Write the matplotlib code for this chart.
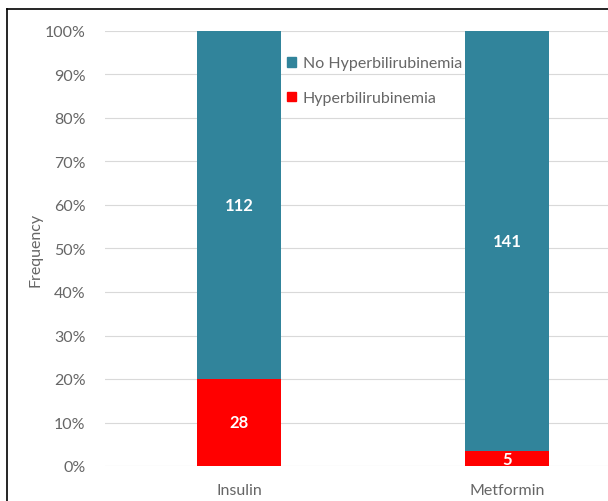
"""
Stacked 100% bars: hyperbilirubinemia by treatment.
"""

from matplotlib import pyplot as plt
from matplotlib.lines import Line2D
from matplotlib.patches import Patch
from matplotlib.ticker import PercentFormatter
import numpy as np

groups = ['Insulin', 'Metformin']
hyper = [28, 5]
no_hyper = [112, 141]
series_names = ['No Hyperbilirubinemia', 'Hyperbilirubinemia']

TEAL = '#31849b'
RED = '#ff0000'
GREY = '#666666'
FS = 11.5

plt.rcParams['font.family'] = ['Lato', 'DejaVu Sans']
plt.rcParams['font.size'] = FS

hyper = np.array(hyper)
no_hyper = np.array(no_hyper)
total = hyper + no_hyper
hyper_pct = hyper / total * 100
no_pct = no_hyper / total * 100

fig = plt.figure(figsize=(6.08, 5.02), dpi=100)
ax = fig.add_axes([105 / 608, 1 - 467 / 502, 536 / 608, 435 / 502])

x = np.arange(len(groups))
width = 0.313
ax.bar(x, hyper_pct, width, color=RED, zorder=2)
ax.bar(x, no_pct, width, bottom=hyper_pct, color=TEAL, zorder=2)

for xi, h, hp, n, npct in zip(x, hyper, hyper_pct, no_hyper, no_pct):
    ax.text(xi, hp / 2, str(h), ha='center', va='center', fontsize=12,
            color='white', fontweight='bold', zorder=3)
    ax.text(xi, hp + npct / 2, str(n), ha='center', va='center', fontsize=12,
            color='white', fontweight='bold', zorder=3)

ax.set_xlim(-0.5, 1.5)
ax.set_ylim(0, 100)
ax.set_yticks(np.arange(0, 101, 10))
ax.yaxis.set_major_formatter(PercentFormatter(decimals=0))
ax.set_xticks(x, groups)
ax.tick_params(length=0, colors=GREY, labelsize=FS)
ax.tick_params(axis='x', pad=12)
ax.tick_params(axis='y', pad=14)
ax.grid(axis='y', color='#d9d9d9', linewidth=0.8, zorder=0)
ax.set_axisbelow(True)
for s in ax.spines.values():
    s.set_visible(False)

fig.text(35 / 608, 1 - 250 / 502, 'Frequency', rotation=90,
         ha='center', va='center', color=GREY, fontsize=FS)

handles = [Patch(color=TEAL), Patch(color=RED)]
ax.legend(handles, series_names, loc='upper left',
          bbox_to_anchor=(281 / 608, 1 - 51 / 502),
          bbox_transform=fig.transFigure, frameon=False,
          handlelength=0.55, handleheight=0.55, handletextpad=0.4,
          labelspacing=1.3, labelcolor=GREY, fontsize=FS,
          borderaxespad=0)

# figure frame, cropped on the right and bottom
fig.add_artist(Line2D([7 / 608, 7 / 608], [0, 1 - 10 / 502],
                      color='black', linewidth=1.2))
fig.add_artist(Line2D([7 / 608, 1], [1 - 10 / 502, 1 - 10 / 502],
                      color='black', linewidth=1.2))

fig.savefig('out.png', dpi=100)
